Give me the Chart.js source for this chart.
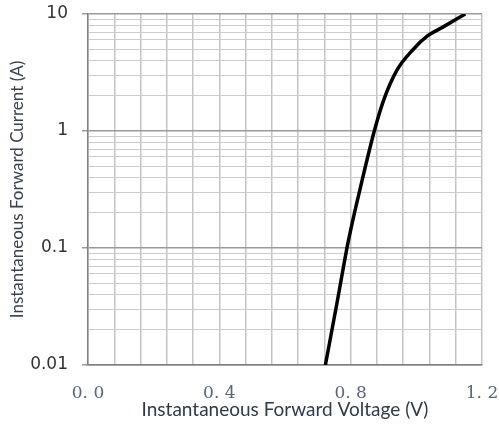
<!DOCTYPE html>
<html>
<head>
<meta charset="utf-8">
<script src="https://cdn.jsdelivr.net/npm/chart.js@4/dist/chart.umd.min.js"></script>
<style>
  html, body { margin: 0; padding: 0; background: #fff; }
  #wrap { width: 499px; height: 425px; }
</style>
</head>
<body>
<div id="wrap"><canvas id="chart"></canvas></div>
<script>
// forward voltage (V) vs instantaneous forward current (A)
const voltage = [0.723, 0.759, 0.793, 0.835, 0.872, 0.90, 0.941, 0.991, 1.033, 1.082, 1.149];
const current = [0.01, 0.0347, 0.115, 0.38, 1.0, 1.82, 3.31, 5.0, 6.46, 7.76, 10];

// axis ticks
const xStep = 0.08;
const xLabelled = [0, 0.4, 0.8, 1.2];
const decades = [0.01, 0.1, 1, 10];

const xTicks = [];
for (let i = 0; i <= 15; i++) xTicks.push(+(i * xStep).toFixed(2));
const yTicks = [];
decades.forEach((d, k) => {
  if (k === decades.length - 1) { yTicks.push(d); return; }
  for (let m = 1; m <= 9; m++) yTicks.push(+(d * m).toPrecision(2));
});

const isDecade = v => decades.some(d => Math.abs(v - d) < d * 1e-6);
const isLabelledX = v => xLabelled.some(l => Math.abs(v - l) < 1e-6);

const ctx = document.getElementById('chart').getContext('2d');
new Chart(ctx, {
  type: 'line',
  data: {
    datasets: [{
      data: voltage.map((v, i) => ({ x: v, y: current[i] })),
      borderColor: '#000',
      borderWidth: 3.5,
      pointRadius: 0,
      cubicInterpolationMode: 'monotone',
      fill: false,
    }],
  },
  options: {
    responsive: true,
    maintainAspectRatio: false,
    animation: false,
    layout: { padding: { top: 14, right: 17, left: 0, bottom: 0 } },
    plugins: { legend: { display: false }, tooltip: { enabled: false } },
    scales: {
      x: {
        type: 'linear',
        min: 0,
        max: 1.2,
        afterBuildTicks: s => { s.ticks = xTicks.map(v => ({ value: v })); },
        afterFit: s => { s.height = 60; s.paddingLeft = 0; s.paddingRight = 0; },
        border: { color: '#808080', width: 1.5 },
        grid: {
          color: '#c4c4c4',
          lineWidth: 1.5,
          drawTicks: false,
        },
        ticks: {
          autoSkip: false,
          maxRotation: 0,
          padding: 18,
          color: '#5a6679',
          font: { family: 'DejaVu Serif', size: 17 },
          callback: v => isLabelledX(v) ? v.toFixed(1).replace('.', '. ') : '',
        },
        title: {
          display: true,
          text: 'Instantaneous Forward Voltage (V)',
          color: '#2f3b4c',
          font: { family: 'Lato', size: 19 },
          padding: { top: 0, bottom: 4 },
        },
      },
      y: {
        type: 'logarithmic',
        min: 0.01,
        max: 10,
        afterBuildTicks: s => { s.ticks = yTicks.map(v => ({ value: v })); },
        afterFit: s => { s.width = 88; s.paddingTop = 0; s.paddingBottom = 0; },
        border: { color: '#808080', width: 1.5 },
        grid: {
          color: c => isDecade(c.tick.value) ? '#9a9a9a' : '#cccccc',
          lineWidth: c => isDecade(c.tick.value) ? 1.5 : 1,
          tickLength: 6,
          tickColor: c => isDecade(c.tick.value) ? '#9a9a9a' : 'rgba(0,0,0,0)',
        },
        ticks: {
          autoSkip: false,
          padding: 14,
          color: '#333',
          font: { family: 'DejaVu Sans', size: 17 },
          callback: v => isDecade(v) ? String(+v.toPrecision(2)) : '',
        },
        title: {
          display: true,
          text: 'Instantaneous Forward Current (A)',
          color: '#3a4250',
          font: { family: 'Lato', size: 17 },
          padding: { top: 7, bottom: 0 },
        },
      },
    },
  },
});
</script>
</body>
</html>
